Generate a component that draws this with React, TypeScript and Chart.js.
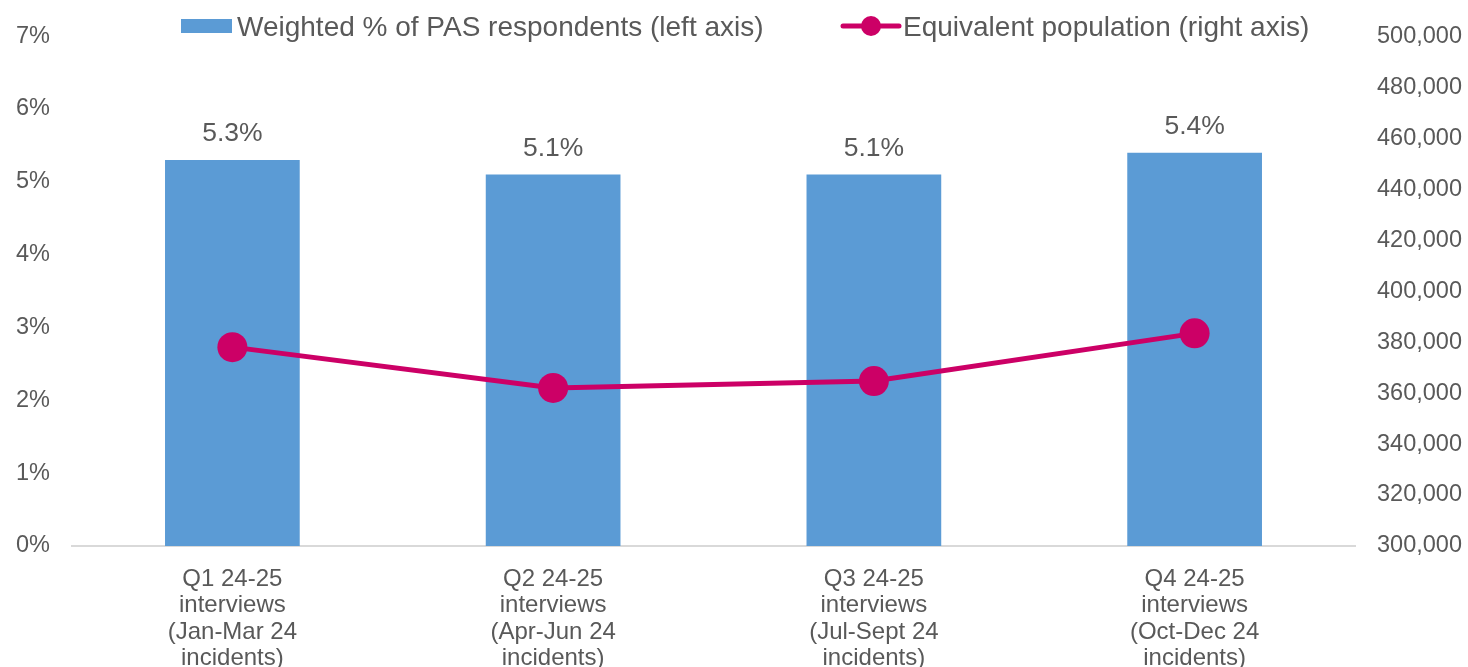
import React, { useEffect, useRef } from "react";
import { Chart, registerables } from "chart.js";

Chart.register(...registerables);

const categories: string[][] = [
  ["Q1 24-25", "interviews", "(Jan-Mar 24", "incidents)"],
  ["Q2 24-25", "interviews", "(Apr-Jun 24", "incidents)"],
  ["Q3 24-25", "interviews", "(Jul-Sept 24", "incidents)"],
  ["Q4 24-25", "interviews", "(Oct-Dec 24", "incidents)"],
];
const weightedPct: number[] = [5.3, 5.1, 5.1, 5.4];
const population: number[] = [378000, 362000, 364700, 383400];
const barLabel = "Weighted % of PAS respondents (left axis)";
const lineLabel = "Equivalent population (right axis)";

const FONT = "'Liberation Sans', Arial, sans-serif";
const TEXT = "#595959";
const BAR = "#5B9BD5";
const LINE = "#CC0066";

const dataLabelPlugin = {
  id: "dataLabels",
  afterDatasetsDraw(chart: any) {
    const ctx = chart.ctx;
    chart.data.datasets.forEach((ds: any, i: number) => {
      if (ds.type !== "bar") return;
      const meta = chart.getDatasetMeta(i);
      ctx.save();
      ctx.font = `26.5px ${FONT}`;
      ctx.fillStyle = TEXT;
      ctx.textAlign = "center";
      ctx.textBaseline = "bottom";
      meta.data.forEach((el: any, j: number) => {
        ctx.fillText(ds.data[j].toFixed(1) + "%", el.x, el.y - 13);
      });
      ctx.restore();
    });
  },
};

const legendPlugin = {
  id: "customLegend",
  afterDraw(chart: any) {
    const ctx = chart.ctx;
    const y = 26;
    ctx.save();
    ctx.font = `28px ${FONT}`;
    ctx.textBaseline = "middle";
    ctx.textAlign = "left";
    ctx.fillStyle = BAR;
    ctx.fillRect(181, 19, 51, 14);
    ctx.fillStyle = TEXT;
    ctx.fillText(barLabel, 237, y + 2);
    ctx.strokeStyle = LINE;
    ctx.lineWidth = 5;
    ctx.lineCap = "round";
    ctx.beginPath();
    ctx.moveTo(843, y);
    ctx.lineTo(899, y);
    ctx.stroke();
    ctx.fillStyle = LINE;
    ctx.beginPath();
    ctx.arc(871, y, 10, 0, Math.PI * 2);
    ctx.fill();
    ctx.fillStyle = TEXT;
    ctx.fillText(lineLabel, 903, y + 2);
    ctx.restore();
  },
};

export default function App() {
  const ref = useRef<HTMLCanvasElement | null>(null);
  useEffect(() => {
    if (!ref.current) return;
    const chart = new Chart(ref.current, {
      type: "bar",
      data: {
        labels: categories,
        datasets: [
          {
            type: "line",
            label: lineLabel,
            data: population,
            yAxisID: "yR",
            borderColor: LINE,
            backgroundColor: LINE,
            borderWidth: 5,
            pointRadius: 15,
            pointHoverRadius: 15,
            pointBackgroundColor: LINE,
            pointBorderWidth: 0,
            tension: 0,
            order: 0,
          } as any,
          {
            type: "bar",
            label: barLabel,
            data: weightedPct,
            yAxisID: "yL",
            backgroundColor: BAR,
            barPercentage: 0.42,
            categoryPercentage: 1,
            order: 1,
          },
        ],
      },
      options: {
        animation: false,
        responsive: true,
        maintainAspectRatio: false,
        layout: { padding: { top: 33, left: 0, right: 0, bottom: 0 } },
        plugins: {
          legend: { display: false },
          tooltip: { enabled: false },
        },
        scales: {
          x: {
            offset: true,
            grid: { display: false, drawTicks: false },
            border: { display: true, color: "#D9D9D9", width: 2 },
            ticks: {
              color: TEXT,
              font: { family: FONT, size: 24, lineHeight: 1.1 },
              maxRotation: 0,
              autoSkip: false,
              padding: 20,
            },
            afterFit: (s: any) => {
              s.height = 121;
            },
          },
          yL: {
            position: "left",
            min: 0,
            max: 7,
            grid: { display: false, drawTicks: false },
            border: { display: false },
            ticks: {
              stepSize: 1,
              color: TEXT,
              font: { family: FONT, size: 23.5 },
              padding: 22,
              callback: (v: any) => v + "%",
            },
            afterFit: (s: any) => {
              s.width = 72;
            },
          },
          yR: {
            position: "right",
            min: 300000,
            max: 500000,
            grid: { display: false, drawTicks: false },
            border: { display: false },
            ticks: {
              stepSize: 20000,
              color: TEXT,
              font: { family: FONT, size: 23.5 },
              padding: 22,
              callback: (v: any) => Number(v).toLocaleString("en-US"),
            },
            afterFit: (s: any) => {
              s.width = 113;
            },
          },
        },
      },
      plugins: [dataLabelPlugin, legendPlugin],
    });
    return () => chart.destroy();
  }, []);
  return (
    <div style={{ position: "fixed", left: 0, top: 0, width: 1468, height: 667, background: "#fff" }}>
      <canvas ref={ref} />
    </div>
  );
}
